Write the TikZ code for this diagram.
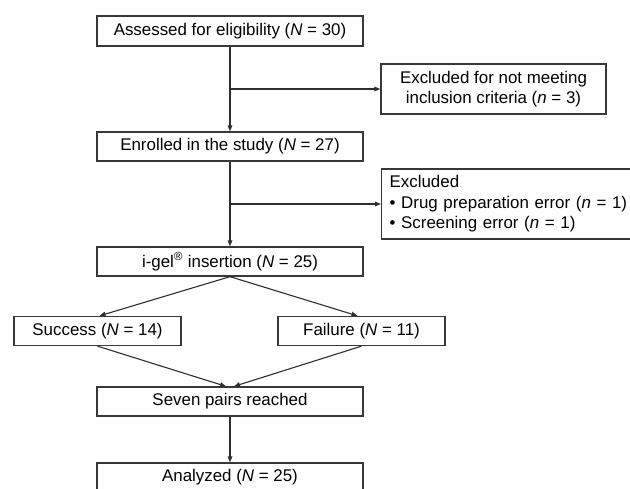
\documentclass[tikz,border=0pt]{standalone}
\usepackage{fontspec}
\setmainfont{Liberation Sans}
\usetikzlibrary{arrows.meta}
\newcommand\flowtextstyle{\fontsize{16.9}{20.5}\selectfont}
\newcommand\flowmainwidth{266pt}
\newcommand\flowsidewidth{167pt}
\tikzset{
  >={Triangle[length=6pt, width=4.6pt]},
  flowbox/.style={draw=black!78, line width=1.3pt, inner sep=0pt, minimum height=29pt, font=\flowtextstyle},
  mainbox/.style={flowbox, minimum width=\flowmainwidth},
  sidebox/.style={flowbox, minimum width=\flowsidewidth},
  flowline/.style={black!82, line width=1.1pt},
}
\begin{document}
\begin{tikzpicture}[x=1pt, y=-1pt]
  \useasboundingbox (0, 0) rectangle (630, 488) ;
  \draw (230, 31) node[mainbox, minimum height=30pt] (assessed) {Assessed for eligibility (\emph{N} = 30)} ;
  \draw (493.5, 89) node[flowbox, minimum width=225pt, minimum height=50pt, align=center] (notmeeting) {Excluded for not meeting\\inclusion criteria (\emph{n} = 3)} ;
  \draw (230, 146.5) node[mainbox] (enrolled) {Enrolled in the study (\emph{N} = 27)} ;
  \draw (381, 204) node[flowbox, anchor=west, text width=246pt, inner xsep=8pt, minimum height=70pt, align=left] (excluded) {Excluded\\\textbullet\ Drug preparation error (\emph{n} = 1)\\\textbullet\ Screening error (\emph{n} = 1)} ;
  \draw (230, 261.5) node[mainbox] (igel) {i-gel\textsuperscript{\textregistered} insertion (\emph{N} = 25)} ;
  \draw (97.5, 331) node[sidebox] (success) {Success (\emph{N} = 14)} ;
  \draw (361.5, 331) node[sidebox] (failure) {Failure (\emph{N} = 11)} ;
  \draw (230, 401.5) node[mainbox] (seven) {Seven pairs reached} ;
  \draw (230, 477.5) node[mainbox] (analyzed) {Analyzed (\emph{N} = 25)} ;
  \draw[flowline, ->] (assessed) -- (enrolled) ;
  \draw[flowline, ->] (assessed.south |- notmeeting.west) -- (notmeeting.west) ;
  \draw[flowline, ->] (enrolled) -- (igel) ;
  \draw[flowline, ->] (enrolled.south |- excluded.west) -- (excluded.west) ;
  \draw[flowline, ->] (igel.south) -- ([xshift=2pt]success.north) ;
  \draw[flowline, ->] (igel.south) -- ([xshift=-4pt]failure.north) ;
  \draw[flowline, ->] (success.south) -- ([xshift=-4pt]seven.north) ;
  \draw[flowline, ->] (failure.south) -- ([xshift=4pt]seven.north) ;
  \draw[flowline, ->] (seven) -- (analyzed) ;
\end{tikzpicture}
\end{document}
